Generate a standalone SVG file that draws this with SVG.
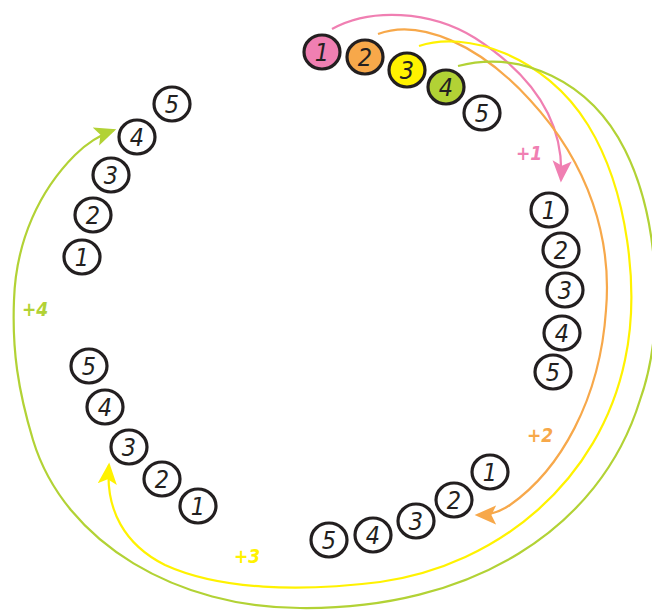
<svg xmlns="http://www.w3.org/2000/svg" width="652" height="612" viewBox="0 0 652 612">
<style>
.n ellipse{stroke:#231f20;stroke-width:3.2;fill:#fff}
.n text{font-family:"DejaVu Sans Condensed","Liberation Sans",sans-serif;font-stretch:condensed;font-style:italic;font-size:25px;fill:#231f20;text-anchor:middle}
.c path{fill:none;stroke-width:2.2}
.lbl{font-family:"DejaVu Sans Condensed","Liberation Sans",sans-serif;font-stretch:condensed;font-style:italic;font-weight:bold;font-size:19px;text-anchor:middle}
</style>
<defs>
<marker id="mp" markerUnits="userSpaceOnUse" markerWidth="24" markerHeight="24" refX="16" refY="8" orient="auto" viewBox="0 0 20 16"><path d="M0,0 L18,8 L0,16 L4,8 Z" fill="#f07fb2"/></marker>
<marker id="mo" markerUnits="userSpaceOnUse" markerWidth="24" markerHeight="24" refX="16" refY="8" orient="auto" viewBox="0 0 20 16"><path d="M0,0 L18,8 L0,16 L4,8 Z" fill="#f7a84a"/></marker>
<marker id="my" markerUnits="userSpaceOnUse" markerWidth="24" markerHeight="24" refX="16" refY="8" orient="auto" viewBox="0 0 20 16"><path d="M0,0 L18,8 L0,16 L4,8 Z" fill="#fff200"/></marker>
<marker id="mg" markerUnits="userSpaceOnUse" markerWidth="24" markerHeight="24" refX="16" refY="8" orient="auto" viewBox="0 0 20 16"><path d="M0,0 L18,8 L0,16 L4,8 Z" fill="#b2d235"/></marker>
</defs>
<g id="connectors" class="c">
<path d="M332,29 C370,8 430,10 475,38 C525,70 565,115 561,180" stroke="#f07fb2" marker-end="url(#mp)"/>
<path d="M378,34 C420,18 480,45 530,100 C590,165 612,240 606,310 C600,400 560,470 510,505 C500,512 490,515 477,515" stroke="#f7a84a" marker-end="url(#mo)"/>
<path d="M419,46 C465,30 545,55 588,125 C628,190 640,290 625,360 C600,480 500,565 380,582 C300,592 220,590 165,565 C125,545 105,510 109,465" stroke="#fff200" marker-end="url(#my)"/>
<path d="M458,66 C520,50 590,80 625,150 C660,220 665,330 640,400 C600,530 470,610 300,608 C180,608 65,545 33,440 C18,390 12,350 14,300 C16,240 40,190 75,155 C88,142 100,135 114,130" stroke="#b2d235" marker-end="url(#mg)"/>
</g>
<text class="lbl" x="529" y="160" fill="#f07fb2">+1</text>
<text class="lbl" x="540" y="442" fill="#f7a84a">+2</text>
<text class="lbl" x="247" y="563" fill="#fff200">+3</text>
<text class="lbl" x="35" y="316" fill="#b2d235">+4</text>
<g id="top-1" class="n"><ellipse cx="322" cy="52" rx="18" ry="17" style="fill:#f07fb2"/><text x="322" y="61">1</text></g>
<g id="top-2" class="n"><ellipse cx="365" cy="57" rx="18" ry="17" style="fill:#f7a84a"/><text x="365" y="66">2</text></g>
<g id="top-3" class="n"><ellipse cx="407" cy="70" rx="18" ry="17" style="fill:#fff200"/><text x="407" y="79">3</text></g>
<g id="top-4" class="n"><ellipse cx="446" cy="87" rx="18" ry="17" style="fill:#b2d235"/><text x="446" y="96">4</text></g>
<g id="top-5" class="n"><ellipse cx="482" cy="113" rx="18" ry="17"/><text x="482" y="122">5</text></g>
<g id="right-1" class="n"><ellipse cx="549" cy="210" rx="18" ry="17"/><text x="549" y="219">1</text></g>
<g id="right-2" class="n"><ellipse cx="561" cy="250" rx="18" ry="17"/><text x="561" y="259">2</text></g>
<g id="right-3" class="n"><ellipse cx="565" cy="290" rx="18" ry="17"/><text x="565" y="299">3</text></g>
<g id="right-4" class="n"><ellipse cx="562" cy="333" rx="18" ry="17"/><text x="562" y="342">4</text></g>
<g id="right-5" class="n"><ellipse cx="553" cy="372" rx="18" ry="17"/><text x="553" y="381">5</text></g>
<g id="bottom-1" class="n"><ellipse cx="490" cy="472" rx="18" ry="17"/><text x="490" y="481">1</text></g>
<g id="bottom-2" class="n"><ellipse cx="454" cy="500" rx="18" ry="17"/><text x="454" y="509">2</text></g>
<g id="bottom-3" class="n"><ellipse cx="416" cy="521" rx="18" ry="17"/><text x="416" y="530">3</text></g>
<g id="bottom-4" class="n"><ellipse cx="373" cy="535" rx="18" ry="17"/><text x="373" y="544">4</text></g>
<g id="bottom-5" class="n"><ellipse cx="329" cy="540" rx="18" ry="17"/><text x="329" y="549">5</text></g>
<g id="lowleft-1" class="n"><ellipse cx="198" cy="506" rx="18" ry="17"/><text x="198" y="515">1</text></g>
<g id="lowleft-2" class="n"><ellipse cx="162" cy="479" rx="18" ry="17"/><text x="162" y="488">2</text></g>
<g id="lowleft-3" class="n"><ellipse cx="129" cy="447" rx="18" ry="17"/><text x="129" y="456">3</text></g>
<g id="lowleft-4" class="n"><ellipse cx="105" cy="407" rx="18" ry="17"/><text x="105" y="416">4</text></g>
<g id="lowleft-5" class="n"><ellipse cx="89" cy="366" rx="18" ry="17"/><text x="89" y="375">5</text></g>
<g id="upleft-1" class="n"><ellipse cx="82" cy="257" rx="18" ry="17"/><text x="82" y="266">1</text></g>
<g id="upleft-2" class="n"><ellipse cx="93" cy="215" rx="18" ry="17"/><text x="93" y="224">2</text></g>
<g id="upleft-3" class="n"><ellipse cx="111" cy="175" rx="18" ry="17"/><text x="111" y="184">3</text></g>
<g id="upleft-4" class="n"><ellipse cx="137" cy="137" rx="18" ry="17"/><text x="137" y="146">4</text></g>
<g id="upleft-5" class="n"><ellipse cx="172" cy="104" rx="18" ry="17"/><text x="172" y="113">5</text></g>
</svg>
